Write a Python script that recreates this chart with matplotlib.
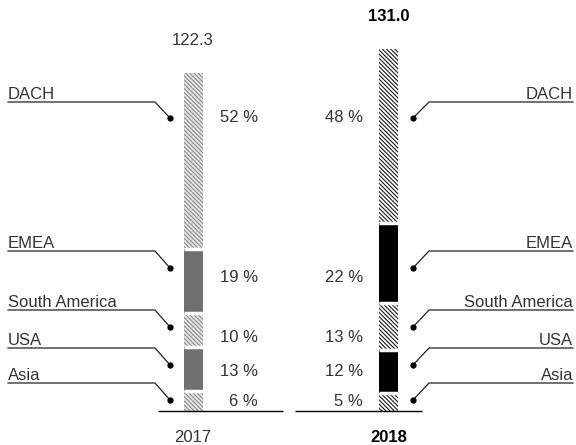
import matplotlib.pyplot as plt

plt.rcParams['font.family'] = ['Liberation Sans', 'DejaVu Sans']
plt.rcParams['hatch.linewidth'] = 0.8

# Data
years = ['2017', '2018']
totals = [122.3, 131.0]
regions = ['Asia', 'USA', 'South America', 'EMEA', 'DACH']  # bottom to top
shares_2017 = [6, 13, 10, 19, 52]
shares_2018 = [5, 12, 13, 22, 48]
shares = [shares_2017, shares_2018]

# Styles: hatched / solid alternate per region
hatched = [True, False, True, False, True]
solid_colors = ['#707070', '#000000']
hatch_colors = ['#8a8a8a', '#1a1a1a']
hatch_faces = ['#e6e6e6', '#ffffff']
text_color = '#333333'

# Layout in pixels (figure 576 x 445)
W, H = 576, 445
base_row = 411
px_per_unit = 2.76


def row(px):
    # pixel row (from top) -> data value
    return (base_row - px) / px_per_unit


fig = plt.figure(figsize=(5.76, 4.45), dpi=100)
ax = fig.add_axes([0, 0, 1, 1])
ax.set_xlim(0, W)
ax.set_ylim(row(H), row(0))
ax.axis('off')

bar_x = [193, 388.5]
bar_w = 19
underline_rows = [383, 348, 310, 251, 102]
dot_rows = [400, 365, 327, 268, 118]
pct_rows = [401, 372, 337, 278, 118]

for i, year in enumerate(years):
    x = bar_x[i]
    bottom = 0
    for j, s in enumerate(shares[i]):
        h = totals[i] * s / 100
        if hatched[j]:
            ax.bar(x, h, bottom=bottom, width=bar_w, color=hatch_faces[i],
                   edgecolor=hatch_colors[i], hatch='\\' * 8, linewidth=0)
        else:
            ax.bar(x, h, bottom=bottom, width=bar_w, color=solid_colors[i],
                   linewidth=0)
        bottom += h
        if j < len(shares[i]) - 1:
            ax.hlines(bottom, x - bar_w / 2, x + bar_w / 2, color='white', lw=2.5)

    # total on top
    ax.text(x, totals[i] + 33 / px_per_unit, f'{totals[i]:.1f}', ha='center', va='center',
            fontsize=12, color='black' if i == 1 else text_color,
            fontweight='bold' if i == 1 else 'normal')
    # year below
    ax.text(x, row(437), year, ha='center', va='center', fontsize=12,
            color='black' if i == 1 else text_color,
            fontweight='bold' if i == 1 else 'normal')

# baselines
ax.hlines(0, 158, 283, color='black', lw=1.0)
ax.hlines(0, 295, 422, color='black', lw=1.0)

# percent labels
for j in range(len(regions)):
    ax.text(258, row(pct_rows[j]), f'{shares_2017[j]} %', ha='right', va='center',
            fontsize=12, color=text_color)
    ax.text(363, row(pct_rows[j]), f'{shares_2018[j]} %', ha='right', va='center',
            fontsize=12, color=text_color)

# leader lines and region labels
for j, name in enumerate(regions):
    u = row(underline_rows[j])
    d = row(dot_rows[j])
    # left (2017)
    ax.plot([8, 155, 170], [u, u, d], color='#222222', lw=0.9)
    ax.plot(170, d, 'o', color='black', ms=3.5)
    ax.text(8, row(underline_rows[j] - 3), name, ha='left', va='baseline',
            fontsize=12, color=text_color)
    # right (2018)
    ax.plot([573, 429, 413], [u, u, d], color='#222222', lw=0.9)
    ax.plot(413, d, 'o', color='black', ms=3.5)
    ax.text(573, row(underline_rows[j] - 3), name, ha='right', va='baseline',
            fontsize=12, color=text_color)

fig.savefig('out.png', dpi=100)
